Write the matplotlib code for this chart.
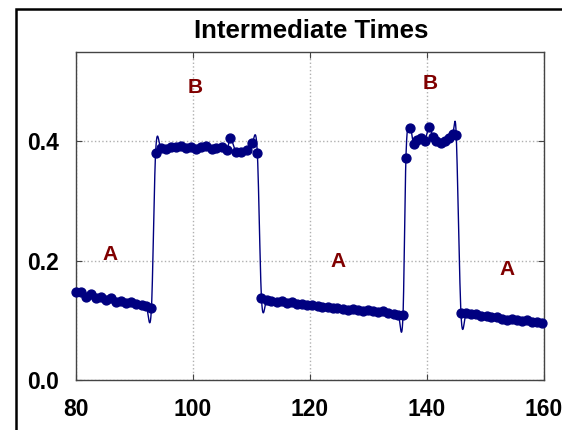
import numpy as np
import matplotlib
matplotlib.use("Agg")
from matplotlib import pyplot as plt
from matplotlib.patches import Rectangle

plt.rcParams['font.family'] = ['Liberation Sans', 'DejaVu Sans']
plt.rcParams['font.weight'] = 'bold'

# sample times and measured values, one list per plateau
t_a1 = [80.0, 80.9, 81.7, 82.6, 83.4, 84.3, 85.2, 86.0, 86.9, 87.7, 88.6, 89.4, 90.3, 91.2, 92.0, 92.9]
v_a1 = [0.147, 0.148, 0.140, 0.144, 0.137, 0.139, 0.134, 0.137, 0.131, 0.132, 0.129, 0.130, 0.127, 0.126, 0.124, 0.121]

t_b1 = [93.6, 94.5, 95.3, 96.2, 97.1, 97.9, 98.8, 99.7, 100.5, 101.4, 102.3, 103.2, 104.0, 104.9, 105.8,
        106.4, 107.3, 108.2, 109.2, 110.1, 111.0]
v_b1 = [0.380, 0.389, 0.387, 0.391, 0.390, 0.392, 0.389, 0.391, 0.388, 0.390, 0.392, 0.387, 0.389, 0.391, 0.386,
        0.405, 0.383, 0.382, 0.386, 0.398, 0.380]

t_a2 = [111.7, 112.6, 113.4, 114.3, 115.2, 116.0, 116.9, 117.8, 118.6, 119.5, 120.4, 121.3, 122.1, 123.0, 123.9,
        124.7, 125.6, 126.5, 127.3, 128.2, 129.1, 129.9, 130.8, 131.7, 132.5, 133.4, 134.3, 135.1, 135.9]
v_a2 = [0.138, 0.134, 0.133, 0.131, 0.132, 0.129, 0.130, 0.127, 0.128, 0.125, 0.126, 0.124, 0.122, 0.123, 0.120,
        0.121, 0.119, 0.118, 0.119, 0.117, 0.116, 0.117, 0.115, 0.114, 0.116, 0.112, 0.110, 0.109, 0.109]

t_b2 = [136.4, 137.1, 137.7, 138.3, 138.9, 139.6, 140.4, 141.0, 141.6, 142.4, 143.1, 143.8, 144.4, 145.0]
v_b2 = [0.373, 0.423, 0.395, 0.402, 0.405, 0.401, 0.424, 0.407, 0.400, 0.398, 0.401, 0.405, 0.413, 0.410]

t_a3 = [145.8, 146.7, 147.5, 148.4, 149.3, 150.2, 151.0, 151.9, 152.8, 153.6, 154.5, 155.4, 156.2, 157.1, 158.0,
        158.8, 159.7]
v_a3 = [0.113, 0.112, 0.111, 0.110, 0.107, 0.108, 0.106, 0.105, 0.103, 0.101, 0.102, 0.100, 0.099, 0.100, 0.098,
        0.097, 0.096]

labels = ['A', 'B', 'A', 'B', 'A']
label_x = [85.8, 100.3, 124.8, 140.5, 153.7]
label_y = [0.210, 0.490, 0.198, 0.497, 0.185]

x_ticks = [80, 100, 120, 140, 160]
y_ticks = [0.0, 0.2, 0.4]


def hermite_curve(x, y, xs, k=1.2):
    # cubic Hermite through the points, slopes from centred differences
    m = np.empty_like(y)
    m[1:-1] = k * (y[2:] - y[:-2]) / (x[2:] - x[:-2])
    m[0] = (y[1] - y[0]) / (x[1] - x[0])
    m[-1] = (y[-1] - y[-2]) / (x[-1] - x[-2])
    i = np.clip(np.searchsorted(x, xs) - 1, 0, len(x) - 2)
    h = x[i + 1] - x[i]
    s = (xs - x[i]) / h
    h00 = 2 * s ** 3 - 3 * s ** 2 + 1
    h10 = s ** 3 - 2 * s ** 2 + s
    h01 = -2 * s ** 3 + 3 * s ** 2
    h11 = s ** 3 - s ** 2
    return h00 * y[i] + h10 * h * m[i] + h01 * y[i + 1] + h11 * h * m[i + 1]


t = np.array(t_a1 + t_b1 + t_a2 + t_b2 + t_a3)
v = np.array(v_a1 + v_b1 + v_a2 + v_b2 + v_a3)
ts = np.linspace(t[0], t[-1], 4000)
vs = hermite_curve(t, v, ts)

fig = plt.figure(figsize=(5.62, 4.30), dpi=100)
ax = fig.add_axes([76 / 562, 50 / 430, 468 / 562, 328 / 430])

ax.plot(ts, vs, color='#000080', lw=1.0, zorder=2)
ax.plot(t, v, 'o', color='#000080', ms=6.4, zorder=3, clip_on=False)

for s, lx, ly in zip(labels, label_x, label_y):
    ax.text(lx, ly, s, color='#800000', fontsize=15, fontweight='bold', ha='center', va='center')

ax.set_xlim(80, 160)
ax.set_ylim(0, 0.55)
ax.set_xticks(x_ticks)
ax.set_yticks(y_ticks)
ax.set_yticklabels(['0.0', '0.2', '0.4'])
ax.tick_params(direction='in', length=4, width=0.8, color='#444444',
               top=True, right=True, labelsize=16.5)
ax.tick_params(axis='x', pad=13)
ax.tick_params(axis='y', pad=12)
ax.grid(True, linestyle=':', color='#b0b0b0', lw=1.0)
for sp in ax.spines.values():
    sp.set_color('#444444')
    sp.set_linewidth(1.0)

fig.text(311 / 562, 1 - 31 / 430, 'Intermediate Times', fontsize=18.5, fontweight='bold',
         ha='center', va='center')

# outer frame, running off the right and bottom edges
fig.patches.append(Rectangle((16 / 562, -0.1), 1.2, 1.1 - 8.5 / 430, transform=fig.transFigure,
                             fill=False, edgecolor='black', lw=1.8))

fig.savefig('out.png', dpi=100)
